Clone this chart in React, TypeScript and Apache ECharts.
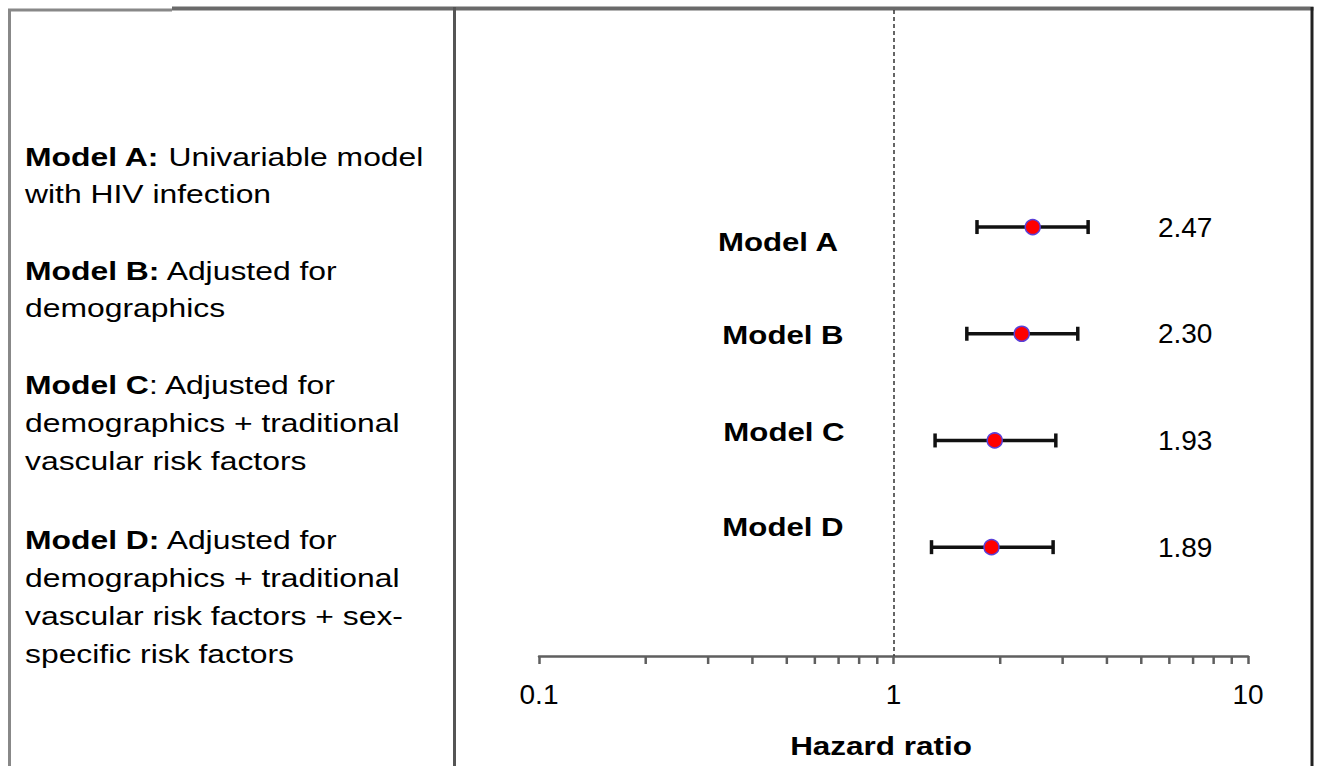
import React, { useEffect, useRef } from "react";
import * as echarts from "echarts";

// ---- data ----
const MODELS = ["Model A", "Model B", "Model C", "Model D"];
const HR = [2.47, 2.3, 1.93, 1.89];
const CI_LOW = [1.72, 1.61, 1.31, 1.28];
const CI_HIGH = [3.54, 3.31, 2.87, 2.82];
const X_TICK_LABELS = [0.1, 1, 10];
const MINOR_TICKS = [0.2, 0.3, 0.4, 0.5, 0.6, 0.7, 0.8, 0.9, 2, 3, 4, 5, 6, 7, 8, 9];
const AXIS_TITLE = "Hazard ratio";
const DESC_BOLD = ["Model A:", "", "Model B:", "", "Model C", "", "", "Model D:", "", "", ""];
const DESC_TEXT = [
  " Univariable model",
  "with HIV infection",
  " Adjusted for",
  "demographics",
  ": Adjusted for",
  "demographics + traditional",
  "vascular risk factors",
  " Adjusted for",
  "demographics + traditional",
  "vascular risk factors + sex-",
  "specific risk factors",
];

// ---- layout ----
const Y_MIN = -2.034;
const Y_MAX = 4.02;
const LABEL_X = 5.57;
const FONT = "'Liberation Sans', Arial, Helvetica, sans-serif";
const DESC_Y = [157, 194, 271, 308, 385, 423, 461, 540, 578, 616, 654];
const MODEL_LABEL_POS = [
  [778, 242],
  [783, 335],
  [784, 432],
  [783, 527],
];

export default function App() {
  const ref = useRef<HTMLDivElement>(null);

  useEffect(() => {
    if (!ref.current) return;
    const chart = echarts.init(ref.current, null, { renderer: "svg" });

    const descGraphics = DESC_TEXT.map((t, i) => ({
      type: "text",
      x: 25,
      y: DESC_Y[i],
      scaleX: 1.275,
      silent: true,
      style: {
        text: DESC_BOLD[i] ? `{b|${DESC_BOLD[i]}}{r|${t}}` : `{r|${t}}`,
        x: 0,
        y: 0,
        align: "left",
        verticalAlign: "middle",
        rich: {
          b: { fontFamily: FONT, fontSize: 25, fontWeight: "bold", fill: "#000" },
          r: { fontFamily: FONT, fontSize: 25, fontWeight: "normal", fill: "#000" },
        },
      },
    }));

    const modelGraphics = MODELS.map((m, i) => ({
      type: "text",
      x: MODEL_LABEL_POS[i][0],
      y: MODEL_LABEL_POS[i][1],
      scaleX: 1.2,
      silent: true,
      style: {
        text: m,
        x: 0,
        y: 0,
        align: "center",
        verticalAlign: "middle",
        fontFamily: FONT,
        fontSize: 26,
        fontWeight: "bold",
        fill: "#000",
      },
    }));

    const borderStyle = (c: string, w: number) => ({ stroke: c, lineWidth: w });

    const option: any = {
      animation: false,
      backgroundColor: "#fff",
      grid: { left: 539, right: 70, top: 10, bottom: 110 },
      xAxis: {
        type: "log",
        logBase: 10,
        min: 0.1,
        max: 10,
        axisLine: { show: true, onZero: false, lineStyle: { color: "#5f5f5f", width: 2.5 } },
        axisTick: { show: true, length: 8, lineStyle: { color: "#5f5f5f", width: 2.5 } },
        splitLine: { show: false },
        axisLabel: {
          fontFamily: FONT,
          fontSize: 28,
          color: "#000",
          margin: 24,
          formatter: (v: number) => {
            const hit = X_TICK_LABELS.find((t) => Math.abs(t - v) / t < 1e-6);
            return hit !== undefined ? String(hit) : "";
          },
        },
      },
      yAxis: { type: "value", inverse: true, min: Y_MIN, max: Y_MAX, show: false },
      series: [
        {
          type: "custom",
          name: "CI",
          data: MODELS.map((_, i) => [CI_LOW[i], CI_HIGH[i], i]),
          encode: { x: [0, 1], y: 2 },
          z: 3,
          renderItem: (params: any, api: any) => {
            const lo = api.coord([api.value(0), api.value(2)]);
            const hi = api.coord([api.value(1), api.value(2)]);
            const h = 7;
            const st = { stroke: "#111", lineWidth: 3.5 };
            return {
              type: "group",
              children: [
                { type: "line", shape: { x1: lo[0], y1: lo[1], x2: hi[0], y2: hi[1] }, style: st },
                { type: "line", shape: { x1: lo[0], y1: lo[1] - h, x2: lo[0], y2: lo[1] + h }, style: st },
                { type: "line", shape: { x1: hi[0], y1: hi[1] - h, x2: hi[0], y2: hi[1] + h }, style: st },
              ],
            };
          },
        },
        {
          type: "scatter",
          name: "HR",
          data: HR.map((v, i) => [v, i]),
          symbol: "circle",
          symbolSize: 15,
          z: 5,
          itemStyle: { color: "#ff0000", borderColor: "#5a40d8", borderWidth: 1.5, opacity: 1 },
          markLine: {
            silent: true,
            symbol: "none",
            label: { show: false },
            lineStyle: { color: "#333", type: [4, 3], width: 1.5 },
            data: [{ xAxis: 1 }],
          },
        },
        {
          type: "custom",
          name: "HR labels",
          data: HR.map((v, i) => [LABEL_X, i, v]),
          encode: { x: 0, y: 1 },
          renderItem: (params: any, api: any) => {
            const p = api.coord([api.value(0), api.value(1)]);
            return {
              type: "text",
              style: {
                text: Number(api.value(2)).toFixed(2),
                x: p[0],
                y: p[1],
                align: "left",
                verticalAlign: "middle",
                fontFamily: FONT,
                fontSize: 28,
                fill: "#000",
              },
            };
          },
        },
        {
          type: "custom",
          name: "minor ticks",
          data: MINOR_TICKS.map((v) => [v, Y_MAX]),
          encode: { x: 0, y: 1 },
          clip: false,
          renderItem: (params: any, api: any) => {
            const p = api.coord([api.value(0), api.value(1)]);
            return {
              type: "line",
              shape: { x1: p[0], y1: p[1], x2: p[0], y2: p[1] + 8 },
              style: { stroke: "#5f5f5f", lineWidth: 2.5 },
            };
          },
        },
      ],
      graphic: [
        { type: "line", silent: true, shape: { x1: 8, y1: 10, x2: 172, y2: 10 }, style: borderStyle("#888", 3) },
        { type: "line", silent: true, shape: { x1: 172, y1: 8.5, x2: 1313.5, y2: 8.5 }, style: borderStyle("#6a6a6a", 4) },
        { type: "line", silent: true, shape: { x1: 9.5, y1: 9, x2: 9.5, y2: 766 }, style: borderStyle("#888", 3) },
        { type: "line", silent: true, shape: { x1: 454.5, y1: 7, x2: 454.5, y2: 766 }, style: borderStyle("#555", 3) },
        { type: "line", silent: true, shape: { x1: 1312, y1: 7, x2: 1312, y2: 766 }, style: borderStyle("#222", 3) },
        ...descGraphics,
        ...modelGraphics,
        {
          type: "text",
          x: 881,
          y: 746,
          scaleX: 1.21,
          silent: true,
          style: {
            text: AXIS_TITLE,
            x: 0,
            y: 0,
            align: "center",
            verticalAlign: "middle",
            fontFamily: FONT,
            fontSize: 26,
            fontWeight: "bold",
            fill: "#000",
          },
        },
      ],
    };

    chart.setOption(option);
    return () => chart.dispose();
  }, []);

  return (
    <div
      ref={ref}
      style={{ position: "absolute", left: 0, top: 0, width: 1318, height: 766, background: "#fff" }}
    />
  );
}
